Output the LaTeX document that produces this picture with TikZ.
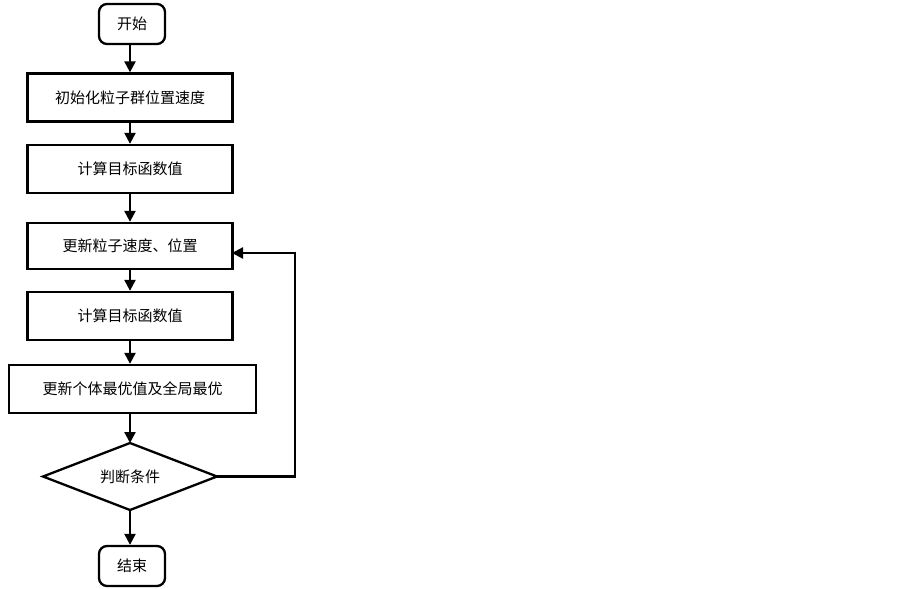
\documentclass[tikz,border=0pt]{standalone}
\usepackage{fontspec}
\setmainfont{Noto Sans CJK SC}
\usetikzlibrary{arrows.meta}
\begin{document}
\begin{tikzpicture}[x=1pt,y=-1pt,
  lbl/.style={font=\fontsize{15}{17}\selectfont,inner sep=0pt},
  base/.style={lbl,draw,line width=2.3pt,anchor=center},
  term/.style={base,rounded corners=8pt,minimum width=66pt,minimum height=40pt},
  proc/.style={base,minimum width=205pt,minimum height=48pt},
  arr/.style={line width=2.3pt,-{Triangle[length=11pt,width=11pt]}}]
\useasboundingbox (0,0) rectangle (903,589);
\node[term] (s) at (132,24) {开始};
\node[proc] (b1) at (130,97.5) {初始化粒子群位置速度};
\node[proc] (b2) at (130,169) {计算目标函数值};
\node[proc,minimum height=46pt] (b3) at (130,246) {更新粒子速度、位置};
\node[proc] (b4) at (130,316) {计算目标函数值};
\node[proc,minimum width=247pt] (b5) at (132.5,389) {更新个体最优值及全局最优};
\coordinate (dl) at (43,476.5);
\coordinate (dt) at (130,443);
\coordinate (dr) at (217,476.5);
\coordinate (db) at (130,510);
\draw[line width=2.3pt,line join=miter] (dl) -- (dt) -- (dr) -- (db) -- cycle;
\node[lbl] (d) at (130,476.5) {判断条件};
\node[term] (e) at (132,566) {结束};
\coordinate (c1) at (295,476.5);
\coordinate (c2) at (295,253);
\coordinate (b3r) at (232,253);
\draw[arr] (s.south -| b1) -- (b1.north);
\draw[arr] (b1) -- (b2);
\draw[arr] (b2) -- (b3);
\draw[arr] (b3) -- (b4);
\draw[arr] (b4.south) -- (b4.south |- b5.north);
\draw[arr] (b5.south -| b4) -- (dt);
\draw[arr] (db) -- (db |- e.north);
\draw[arr] (dr) -- (c1) -- (c2) -- (b3r);
\end{tikzpicture}
\end{document}
